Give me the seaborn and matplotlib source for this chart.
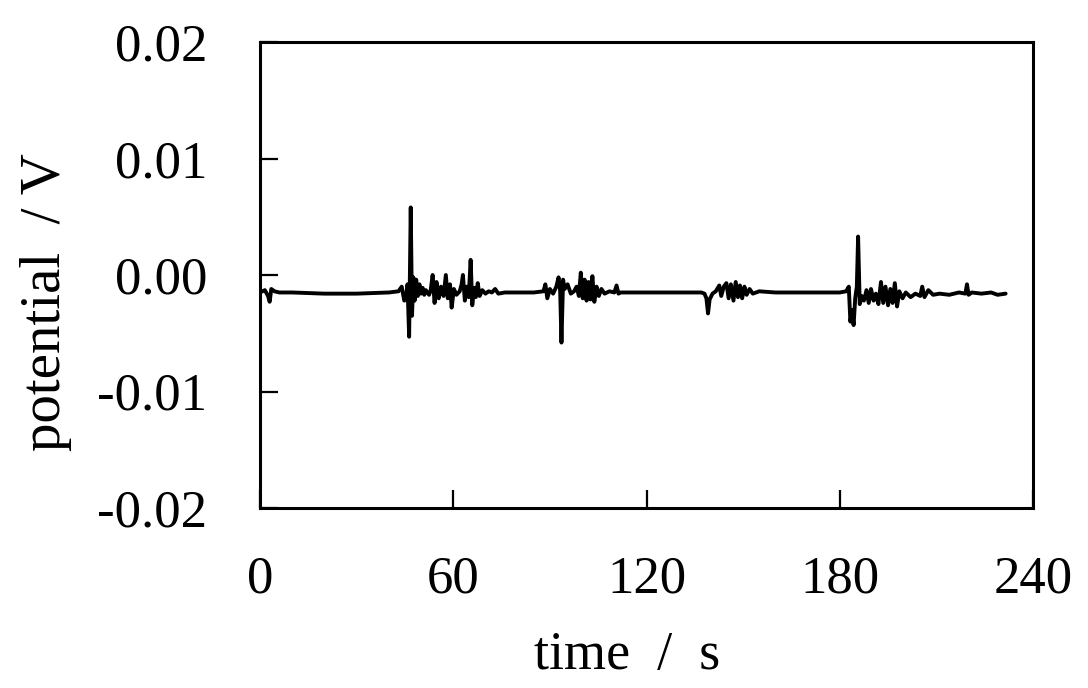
from matplotlib import pyplot as plt
import seaborn as sns
import pandas as pd

# potential trace (time in s, potential in V)
time_s = [
    0, 1.5, 2.5, 3.0, 3.5, 4.5, 6, 10, 20, 30, 40, 43,
    44, 44.8, 45.3, 45.8, 46.3, 46.8, 47.2, 47.6, 48, 48.5, 49, 49.5,
    50, 50.5, 51, 51.5, 52, 52.5, 53, 53.6, 54.2, 54.8, 55.5, 56.2,
    57, 57.7, 58.3, 59, 59.5, 60.2, 61, 62, 62.6, 63, 63.6, 64.2,
    64.8, 65.4, 65.9, 66.5, 67, 67.6, 68.2, 69, 70, 71, 72, 73,
    74, 76, 80, 85, 88, 88.6, 89.2, 90, 91, 92, 92.7, 93.2,
    93.6, 94.1, 94.6, 95.5, 96.5, 97.5, 98.3, 99, 99.6, 100.2, 100.8, 101.4,
    102, 102.6, 103.2, 103.8, 104.5, 105.2, 106, 107, 108.5, 110, 110.7, 111.3,
    112, 120, 130, 137, 138, 138.6, 139.1, 139.6, 140.5, 141.5, 142.6, 143.2,
    144, 144.8, 145.5, 146.2, 147, 147.7, 148.4, 149, 149.7, 150.4, 151.1, 152,
    153, 155, 160, 170, 180, 182, 182.8, 183.3, 183.8, 184.3, 184.8, 185.3,
    185.7, 186.2, 186.8, 187.5, 188.3, 189, 189.7, 190.5, 191.2, 192, 192.8, 193.5,
    194.2, 195, 195.7, 196.4, 197.1, 197.8, 198.5, 199.5, 200.5, 202, 203.5, 205,
    205.6, 206.3, 207.5, 209, 211, 214, 217, 219, 219.5, 220, 221, 224,
    227, 229, 231.5,
]
potential_v = [
    -0.0015, -0.0013, -0.0018, -0.0023, -0.0012, -0.0014, -0.0015, -0.0015, -0.0016, -0.0016, -0.0015, -0.0014,
    -0.0010, -0.0022, -0.0020, -0.0008, -0.0053, 0.0058, -0.0035, -0.0002, -0.0022, -0.0004, -0.0018, -0.0008,
    -0.0016, -0.0011, -0.0017, -0.0013, -0.0015, -0.0017, -0.0013, 0.0000, -0.0024, -0.0006, -0.0020, -0.0010,
    -0.0018, 0.0000, -0.0020, -0.0008, -0.0028, -0.0012, -0.0017, -0.0014, -0.0008, 0.0000, -0.0022, -0.0010,
    -0.0019, 0.0013, -0.0026, -0.0011, -0.0019, -0.0007, -0.0018, -0.0013, -0.0016, -0.0014, -0.0015, -0.0012,
    -0.0016, -0.0015, -0.0015, -0.0015, -0.0014, -0.0008, -0.0020, -0.0012, -0.0016, -0.0010, -0.0002, -0.0014,
    -0.0058, -0.0004, -0.0012, -0.0008, -0.0016, -0.0014, -0.0010, -0.0018, 0.0002, -0.0020, -0.0004, -0.0022,
    -0.0006, -0.0021, -0.0001, -0.0023, -0.0010, -0.0018, -0.0012, -0.0016, -0.0014, -0.0015, -0.0009, -0.0016,
    -0.0015, -0.0015, -0.0015, -0.0015, -0.0016, -0.0020, -0.0033, -0.0021, -0.0016, -0.0014, -0.0009, -0.0018,
    -0.0010, -0.0007, -0.0020, -0.0008, -0.0022, -0.0006, -0.0019, -0.0009, -0.0020, -0.0010, -0.0017, -0.0012,
    -0.0016, -0.0014, -0.0015, -0.0015, -0.0015, -0.0014, -0.0010, -0.0040, -0.0030, -0.0043, -0.0020, -0.0010,
    0.0033, -0.0025, -0.0018, -0.0022, -0.0013, -0.0024, -0.0012, -0.0022, -0.0016, -0.0025, -0.0006, -0.0024,
    -0.0010, -0.0026, -0.0012, -0.0024, -0.0007, -0.0027, -0.0014, -0.0020, -0.0015, -0.0019, -0.0016, -0.0018,
    -0.0010, -0.0019, -0.0013, -0.0017, -0.0016, -0.0017, -0.0015, -0.0016, -0.0008, -0.0017, -0.0015, -0.0016,
    -0.0015, -0.0017, -0.0016,
]
assert len(time_s) == len(potential_v)

x_ticks = [0, 60, 120, 180, 240]
y_ticks = [-0.02, -0.01, 0.00, 0.01, 0.02]
y_tick_labels = ["-0.02", "-0.01", "0.00", "0.01", "0.02"]

df = pd.DataFrame({"time": time_s, "potential": potential_v})

sns.set_style("ticks")
plt.rcParams['font.family'] = ['Liberation Serif', 'DejaVu Serif']

fig = plt.figure(figsize=(10.88, 6.88), dpi=100)
ax = fig.add_axes([260 / 1088, 180 / 688, 773 / 1088, 466 / 688])

sns.lineplot(data=df, x="time", y="potential", estimator=None, sort=False,
             color="black", linewidth=2.8, ax=ax)

ax.set_xlim(0, 240)
ax.set_ylim(-0.02, 0.02)
ax.set_xticks(x_ticks)
ax.set_xticklabels([str(t) for t in x_ticks])
ax.set_yticks(y_ticks)
ax.set_yticklabels(y_tick_labels)

for s in ax.spines.values():
    s.set_linewidth(2.2)
    s.set_color("black")
ax.tick_params(axis="both", direction="in", length=13, width=1.6,
               labelsize=38, colors="black")
ax.tick_params(axis="x", pad=34)
ax.tick_params(axis="y", pad=38)

ax.set_xlabel("time  /  s", fontsize=39, color="black")
ax.set_ylabel("potential  / V", fontsize=41, color="black")
ax.xaxis.set_label_coords(0.475, -0.262)
ax.yaxis.set_label_coords(-0.243, 0.442)

fig.savefig("out.png", dpi=100, facecolor="white")
